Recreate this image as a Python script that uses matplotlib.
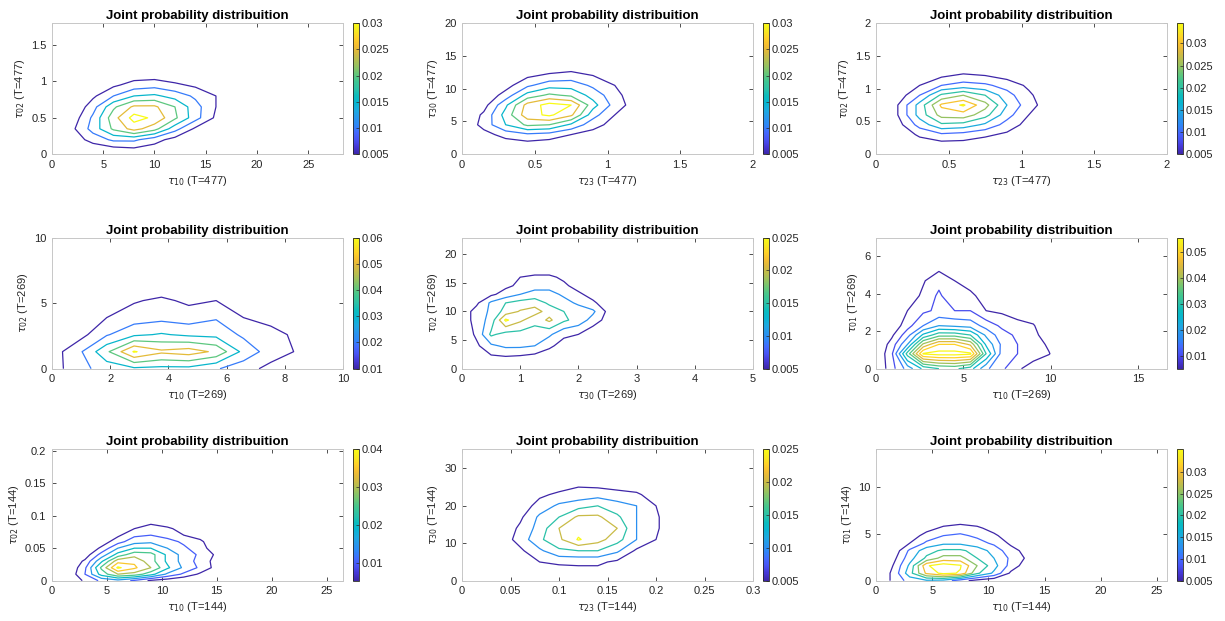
import numpy as np
import matplotlib as mpl
import matplotlib.pyplot as plt
from matplotlib.colors import LinearSegmentedColormap, Normalize

# joint densities, z values in units of 1e-3

# row 1: T=477
X1 = [0, 2, 4, 6, 8, 10, 12, 14, 16, 18]
Y1 = [0.05, 0.2, 0.35, 0.5, 0.65, 0.8, 0.95, 1.1]
Z1 = [[0, 0, 1, 2, 3, 2, 1, 0, 0, 0],
      [0, 2, 7, 11, 11, 7, 3, 1, 0, 0],
      [0, 4, 12, 21, 27, 22, 12, 4, 1, 0],
      [0, 2, 11, 23, 32, 29, 21, 12, 4, 0],
      [0, 0, 8, 19, 26, 26, 20, 12, 5, 0],
      [0, 0, 4, 10, 15, 16, 13, 9, 5, 1],
      [0, 0, 1, 4, 7, 8, 6, 4, 3, 0],
      [0, 0, 0, 1, 2, 2, 1, 1, 0, 0]]
LEV1 = [5, 10, 15, 20, 25, 30]

X2 = [0, 0.15, 0.3, 0.45, 0.6, 0.75, 0.9, 1.05, 1.2]
Y2 = [0, 1.5, 3, 4.5, 6, 7.5, 9, 10.5, 12, 13.5]
Z2 = [[0, 0, 0, 0, 0, 0, 0, 0, 0],
      [0, 0, 2, 3, 2, 1, 0, 0, 0],
      [0, 3, 7, 9, 8, 5, 3, 1, 0],
      [0, 7, 15, 21, 20, 14, 7, 3, 0],
      [0, 6, 17, 28, 31, 26, 12, 5, 1],
      [0, 3, 14, 27, 32, 30, 17, 8, 2],
      [0, 1, 7, 17, 21, 19, 13, 7, 1],
      [0, 0, 3, 9, 13, 13, 9, 5, 0],
      [0, 0, 1, 4, 6, 7, 5, 2, 0],
      [0, 0, 0, 1, 1, 2, 1, 0, 0]]
LEV2 = [5, 10, 15, 20, 25, 30]

X3 = [0, 0.15, 0.3, 0.45, 0.6, 0.75, 0.9, 1.05, 1.2]
Y3 = [0, 0.15, 0.3, 0.45, 0.6, 0.75, 0.9, 1.05, 1.2, 1.35]
Z3 = [[0, 0, 0, 0, 0, 0, 0, 0, 0],
      [0, 0, 2, 3, 3, 2, 1, 0, 0],
      [0, 1, 6, 9, 8, 6, 4, 1, 0],
      [0, 3, 12, 19, 18, 14, 8, 3, 0],
      [0, 5, 17, 27, 28, 22, 12, 5, 1],
      [0, 5, 17, 31, 34.6, 27, 15, 7, 2],
      [0, 2, 10, 21, 25, 20, 12, 6, 1],
      [0, 0, 5, 10, 12, 11, 8, 4, 0],
      [0, 0, 1, 4, 6, 5, 3, 1, 0],
      [0, 0, 0, 0, 0, 0, 0, 0, 0]]
LEV3 = [5, 10, 15, 20, 25, 30, 34]

# row 2: T=269
X4 = [0, 0.94, 1.88, 2.82, 3.76, 4.7, 5.64, 6.58, 7.52, 8.46, 9.4]
Y4 = [0, 1.3, 2.6, 3.9, 5.2, 6.5]
Z4 = [[5, 17, 24, 28, 27, 27, 21, 14, 7, 2, 0],
      [5, 18, 38, 61, 52, 55, 48, 27, 15, 9, 2],
      [0, 6, 19, 28, 31, 28, 27, 18, 13, 8, 1],
      [0, 2, 10, 15, 17, 15, 19, 10, 7, 2, 0],
      [0, 0, 5, 9, 12, 8, 10, 5, 3, 0, 0],
      [0, 0, 0, 1, 2, 1, 1, 0, 0, 0, 0]]
LEV4 = [10, 20, 30, 40, 50, 60]

X5 = [0, 0.25, 0.5, 0.75, 1.0, 1.25, 1.5, 1.75, 2.0, 2.25, 2.5, 2.75]
Y5 = [0, 2, 4, 6, 8.5, 10, 11.5, 13, 14.5, 16, 17.5]
Z5 = [[0, 1, 2, 2, 2, 1, 1, 0, 0, 0, 0, 0],
      [0, 2, 4, 4.5, 4, 3, 2, 1, 0, 0, 0, 0],
      [0, 4, 9, 11, 11, 10, 6, 3, 1, 0, 0, 0],
      [1, 6, 16, 13, 13, 12, 11, 6, 5, 1, 0, 0],
      [2, 7, 12, 26, 21, 17, 21, 16, 13, 8, 3, 0],
      [2, 7, 11, 17, 20.5, 22, 18, 15, 13, 11, 4, 0],
      [0, 4, 11, 15, 17, 18, 14, 12, 9, 6, 2, 0],
      [0, 1, 4, 7, 10, 12, 12, 9, 6, 3, 0, 0],
      [0, 0, 2, 4, 6, 8, 8, 6, 3, 1, 0, 0],
      [0, 0, 0, 1, 5, 6, 6, 4, 1, 0, 0, 0],
      [0, 0, 0, 0, 1, 2, 2, 1, 0, 0, 0, 0]]
LEV5 = [5, 10, 15, 20, 25]

X6 = [0, 0.9, 1.8, 2.7, 3.6, 4.5, 5.4, 6.3, 7.2, 8.1, 9.0, 9.9, 10.8]
Y6 = [0, 0.8, 1.3, 1.8, 2.3, 3.1, 3.9, 4.7, 5.5]
Z6 = [[0, 8, 17, 26, 30, 31, 27, 16, 11, 6, 2, 0, 0],
      [0, 9, 32, 55.5, 57, 57, 56, 30, 13, 10, 8, 5.3, 0],
      [0, 7, 20, 41, 50, 50, 44, 24, 14, 10, 8, 4, 0],
      [0, 4, 13, 26, 33, 33, 30, 19, 12, 9, 7, 1, 0],
      [0, 1, 8, 15, 20, 19, 18, 13, 9, 7, 5.5, 0, 0],
      [0, 0, 5, 9, 11, 10, 10, 5, 4, 2, 1, 0, 0],
      [0, 0, 2, 6, 11, 5.5, 6, 3, 1, 0, 0, 0, 0],
      [0, 0, 0, 4.5, 8.3, 5, 3, 0, 0, 0, 0, 0, 0],
      [0, 0, 0, 0, 3, 0, 0, 0, 0, 0, 0, 0, 0]]
LEV6 = [5, 10, 15, 20, 25, 30, 35, 40, 45, 50, 55]

# row 3: T=144
X7 = [0, 1.5, 3, 4.5, 6, 7.5, 9, 10.5, 12, 13.5, 15, 16.5]
Y7 = [0, 0.01, 0.02, 0.03, 0.04, 0.05, 0.06, 0.07, 0.08, 0.09, 0.1]
Z7 = [[0, 0, 6, 11, 13, 9, 4, 2, 0, 0, 0, 0],
      [0, 1, 10, 22, 30, 28, 22, 14, 9, 4, 0, 0],
      [0, 0, 9, 26, 41, 36, 30, 21, 14, 9, 3, 0],
      [0, 0, 6, 19, 33, 34, 27, 19, 13, 8, 3, 0],
      [0, 0, 2, 12, 22, 28, 27, 19, 13, 9, 4, 0],
      [0, 0, 0, 6, 15, 20, 20, 15, 11, 7, 2, 0],
      [0, 0, 0, 2, 8, 13, 14, 12, 9, 6, 1, 0],
      [0, 0, 0, 0, 4, 9, 10, 8, 5, 3, 0, 0],
      [0, 0, 0, 0, 1, 5, 7, 6, 3, 1, 0, 0],
      [0, 0, 0, 0, 0, 2, 4, 2, 0, 0, 0, 0],
      [0, 0, 0, 0, 0, 0, 0, 0, 0, 0, 0, 0]]
LEV7 = [5, 10, 15, 20, 25, 30, 35, 40]

X8 = [0.04, 0.06, 0.08, 0.10, 0.12, 0.14, 0.16, 0.18, 0.20, 0.22]
Y8 = [2, 5, 8, 11, 14, 17, 20, 23, 26, 29]
Z8 = [[0, 0, 1, 2, 3, 3, 2, 1, 0, 0],
      [0, 2, 5, 6, 6, 6, 4, 2, 0, 0],
      [1, 4, 9, 14, 15, 15, 11, 4, 2, 0],
      [2, 7, 14, 19, 25.5, 22, 17, 10, 5, 0],
      [1, 6, 12, 20, 23, 23, 20, 10, 6, 0],
      [0, 4, 11, 15, 21, 21, 16, 10, 6, 0],
      [0, 2, 7, 11, 13, 15, 12, 10, 5, 0],
      [0, 0, 4, 6, 7, 8, 7, 6, 2, 0],
      [0, 0, 1, 2, 4, 3, 2, 1, 0, 0],
      [0, 0, 0, 0, 0, 0, 0, 0, 0, 0]]
LEV8 = [5, 10, 15, 20, 25]

X9 = [0, 1.5, 3, 4.5, 6, 7.5, 9, 10.5, 12, 13.5, 15]
Y9 = [0, 0.8, 1.6, 2.4, 3.2, 4.0, 4.8, 5.6, 6.4]
Z9 = [[0, 6, 12, 14, 13, 7, 3, 1, 0, 0, 0],
      [0, 6, 18, 31, 36, 34, 21, 14, 4, 1, 0],
      [0, 5, 16, 34, 37, 35, 25, 17, 8, 2, 0],
      [0, 3, 13, 21, 27, 27, 20, 15, 9, 4, 0],
      [0, 1, 11, 18, 21, 21, 18, 13, 7, 3, 0],
      [0, 0, 5, 11, 14, 14, 12, 9, 4, 1, 0],
      [0, 0, 2, 7, 10, 11, 9, 6, 2, 0, 0],
      [0, 0, 0, 3, 6, 7, 6, 3, 0, 0, 0],
      [0, 0, 0, 1, 2, 3, 2, 1, 0, 0, 0]]
LEV9 = [5, 10, 15, 20, 25, 30, 34.5]

XLABELS = [r"$\tau_{10}$ (T=477)", r"$\tau_{23}$ (T=477)", r"$\tau_{23}$ (T=477)",
           r"$\tau_{10}$ (T=269)", r"$\tau_{30}$ (T=269)", r"$\tau_{10}$ (T=269)",
           r"$\tau_{10}$ (T=144)", r"$\tau_{23}$ (T=144)", r"$\tau_{10}$ (T=144)"]
YLABELS = [r"$\tau_{02}$ (T=477)", r"$\tau_{30}$ (T=477)", r"$\tau_{02}$ (T=477)",
           r"$\tau_{02}$ (T=269)", r"$\tau_{02}$ (T=269)", r"$\tau_{01}$ (T=269)",
           r"$\tau_{02}$ (T=144)", r"$\tau_{30}$ (T=144)", r"$\tau_{01}$ (T=144)"]
TITLE = "Joint probability distribuition"

# (xlim, ylim, xticks, yticks, clim, cbar ticks)
AXES = [
    ((0, 28.4), (0, 1.8), [0, 5, 10, 15, 20, 25], [0, 0.5, 1, 1.5], (5, 30), [5, 10, 15, 20, 25, 30]),
    ((0, 2), (0, 20), [0, 0.5, 1, 1.5, 2], [0, 5, 10, 15, 20], (5, 30), [5, 10, 15, 20, 25, 30]),
    ((0, 2), (0, 2), [0, 0.5, 1, 1.5, 2], [0, 0.5, 1, 1.5, 2], (5, 34.6), [5, 10, 15, 20, 25, 30]),
    ((0, 10), (0, 10), [0, 2, 4, 6, 8, 10], [0, 5, 10], (10, 60), [10, 20, 30, 40, 50, 60]),
    ((0, 5), (0, 22.9), [0, 1, 2, 3, 4, 5], [0, 5, 10, 15, 20], (5, 25), [5, 10, 15, 20, 25]),
    ((0, 16.65), (0, 7), [0, 5, 10, 15], [0, 2, 4, 6], (5, 55.7), [10, 20, 30, 40, 50]),
    ((0, 26.5), (0, 0.202), [0, 5, 10, 15, 20, 25], [0, 0.05, 0.1, 0.15, 0.2], (5.2, 40), [10, 20, 30, 40]),
    ((0, 0.3), (0, 35.1), [0, 0.05, 0.1, 0.15, 0.2, 0.25, 0.3], [0, 10, 20, 30], (5, 25), [5, 10, 15, 20, 25]),
    ((0, 25.9), (0, 14), [0, 5, 10, 15, 20, 25], [0, 5, 10], (5, 35.2), [5, 10, 15, 20, 25, 30]),
]

DATA = [(X1, Y1, Z1, LEV1), (X2, Y2, Z2, LEV2), (X3, Y3, Z3, LEV3),
        (X4, Y4, Z4, LEV4), (X5, Y5, Z5, LEV5), (X6, Y6, Z6, LEV6),
        (X7, Y7, Z7, LEV7), (X8, Y8, Z8, LEV8), (X9, Y9, Z9, LEV9)]

# parula-like colormap
PARULA = LinearSegmentedColormap.from_list("parula", [
    (0.2422, 0.1504, 0.6603), (0.2706, 0.2147, 0.8364), (0.2810, 0.3228, 0.9579),
    (0.2602, 0.4123, 0.9952), (0.1786, 0.5289, 0.9682), (0.1540, 0.5902, 0.9218),
    (0.1113, 0.6635, 0.8763), (0.0297, 0.7082, 0.8163), (0.0433, 0.7377, 0.7406),
    (0.1717, 0.7580, 0.6559), (0.2470, 0.7752, 0.5683), (0.3909, 0.7796, 0.4789),
    (0.5616, 0.7647, 0.3916), (0.7153, 0.7436, 0.3123), (0.8500, 0.7251, 0.2468),
    (0.9588, 0.7433, 0.1934), (0.9999, 0.8230, 0.1538), (0.9696, 0.9159, 0.1239),
    (0.9769, 0.9839, 0.0805)])

plt.rcParams["font.family"] = ["Liberation Sans", "DejaVu Sans"]
plt.rcParams["mathtext.fontset"] = "dejavusans"

W, H = 1225, 621
COL_L = [52, 462, 876]
COL_R = [343, 753, 1167]
CB_L = [352.5, 763, 1176.5]
ROW_T = [23, 237.7, 449.3]
ROW_B = [154.3, 368.7, 580.7]


def rect(l, r, t, b):
    return [l / W, 1 - b / H, (r - l) / W, (b - t) / H]


def fmt(v):
    return f"{v:g}"


fig = plt.figure(figsize=(W / 100, H / 100), dpi=100)

for k in range(9):
    row, col = divmod(k, 3)
    x, y, z, lev = DATA[k]
    xlim, ylim, xt, yt, clim, cbt = AXES[k]
    ax = fig.add_axes(rect(COL_L[col], COL_R[col], ROW_T[row], ROW_B[row]))
    norm = Normalize(vmin=clim[0] * 1e-3, vmax=clim[1] * 1e-3)
    ax.contour(np.array(x), np.array(y), np.array(z) * 1e-3,
               levels=np.array(lev) * 1e-3, cmap=PARULA, norm=norm, linewidths=0.9)
    ax.set_xlim(*xlim)
    ax.set_ylim(*ylim)
    ax.set_xticks(xt)
    ax.set_xticklabels([fmt(v) for v in xt])
    ax.set_yticks(yt)
    ax.set_yticklabels([fmt(v) for v in yt])
    ax.tick_params(direction="in", top=True, right=True, length=3, width=0.6,
                   color="0.2", labelsize=8, labelcolor="0.15", pad=4)
    for s in ax.spines.values():
        s.set_color("0.78")
        s.set_linewidth(0.7)
    ax.set_title(TITLE, fontsize=9.5, fontweight="bold", pad=3)
    ax.set_xlabel(XLABELS[k], fontsize=8, color="0.15", labelpad=3)
    ax.set_ylabel(YLABELS[k], fontsize=8, color="0.15", labelpad=3)

    cax = fig.add_axes(rect(CB_L[col], CB_L[col] + 6, ROW_T[row], ROW_B[row]))
    cb = fig.colorbar(mpl.cm.ScalarMappable(norm=norm, cmap=PARULA), cax=cax)
    cb.set_ticks([v * 1e-3 for v in cbt])
    cb.set_ticklabels([fmt(v * 1e-3) for v in cbt])
    cb.outline.set_edgecolor("0.15")
    cb.outline.set_linewidth(0.6)
    cax.tick_params(direction="in", length=2, width=0.5, color="0.15",
                    labelsize=8, labelcolor="0.15", pad=2)

fig.savefig("out.png", dpi=100)
